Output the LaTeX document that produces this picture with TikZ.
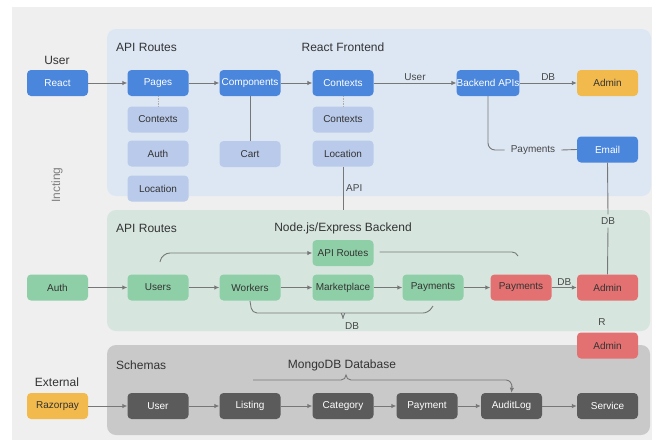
\documentclass[tikz,border=0pt]{standalone}
\usepackage{fontspec}
\setmainfont{Liberation Sans}
\usetikzlibrary{arrows.meta,calc}
\definecolor{outerbg}{HTML}{EFEFEF}
\definecolor{bluepanel}{HTML}{DDE7F4}
\definecolor{greenpanel}{HTML}{D6E6DF}
\definecolor{graypanel}{HTML}{C9C9C9}
\definecolor{bluenode}{HTML}{4A86DC}
\definecolor{lightnode}{HTML}{BACAEA}
\definecolor{yellownode}{HTML}{F2B94C}
\definecolor{greennode}{HTML}{8FCFA7}
\definecolor{rednode}{HTML}{E47171}
\definecolor{darknode}{HTML}{5B5B5B}
\definecolor{linecol}{HTML}{777777}
\definecolor{textcol}{HTML}{333333}
\begin{document}
\begin{tikzpicture}[x=1pt,y=-1pt,
  box/.style={rounded corners=4pt,minimum width=61pt,minimum height=26pt,inner sep=0pt,
    font=\fontsize{10}{12}\selectfont},
  bluebox/.style={box,fill=bluenode,text=white},
  lightbox/.style={box,fill=lightnode,text=textcol},
  yellowbox/.style={box,fill=yellownode,text=textcol},
  greenbox/.style={box,fill=greennode,text=textcol},
  redbox/.style={box,fill=rednode,text=textcol},
  darkbox/.style={box,fill=darknode,text=white},
  panel/.style={rounded corners=9pt},
  title/.style={font=\fontsize{12}{14}\selectfont,text=textcol,inner sep=0pt},
  lbl/.style={font=\fontsize{10}{12}\selectfont,text=textcol!90,inner sep=1pt},
  conn/.style={draw=linecol,line width=0.9pt},
  arr/.style={conn,-{Latex[length=5pt,width=4.5pt]}},
]
\useasboundingbox (0,0) rectangle (656,445);
\fill[white] (0,0) rectangle (656,445);
\fill[outerbg] (12,7) rectangle (652,440);
% panels
\fill[panel,bluepanel] (107,29) rectangle (651,196);
\fill[panel,greenpanel] (107,210) rectangle (650,331);
\fill[panel,graypanel] (107,345) rectangle (650,435);

% ---------- top section ----------
\node[title,anchor=west] (t1) at (116,47) {API Routes};
\node[title] (t2) at (343,47) {React Frontend};
\node[title] (luser) at (57,60) {User};
\node[lbl,text=gray,rotate=90] (inct) at (57,185) {\fontsize{12}{14}\selectfont Incting};

\node[bluebox] (react) at (57.5,83) {React};
\node[bluebox] (pages) at (158,83) {Pages};
\node[bluebox] (comp) at (250,83) {Components};
\node[bluebox] (ctx1) at (343,83) {Contexts};
\node[bluebox] (backend) at (488,83) {Backend APIs};
\node[yellowbox] (admin1) at (607.5,83) {Admin};

\node[lightbox] (ctx2) at (158,119.5) {Contexts};
\node[lightbox] (auth1) at (158,153.5) {Auth};
\node[lightbox] (loc1) at (158,188.5) {Location};
\node[lightbox] (cart) at (250,154) {Cart};
\node[lightbox] (ctx3) at (343,119.5) {Contexts};
\node[lightbox] (loc2) at (343,153.5) {Location};
\node[bluebox] (email) at (607.5,149.5) {Email};

\draw[arr] (react) -- (pages);
\draw[arr] (pages) -- (comp);
\draw[arr] (comp) -- (ctx1);
\draw[arr] (ctx1) -- node[lbl,above=1pt] (luser2) {User} (backend);
\draw[arr] (backend) -- node[lbl,above=1pt] (ldb1) {DB} (admin1);
\draw[conn] (comp) -- (cart);
\draw[draw=linecol!60,line width=0.6pt,densely dotted] (pages.south) -- (ctx2.north);
\draw[draw=linecol!60,line width=0.6pt,densely dotted] (ctx1.south) -- (ctx3.north);
\node[lbl,inner xsep=6pt] (lpay) at (533,150) {Payments};
\draw[conn,rounded corners=7pt] (backend.south) |- (lpay.west);
\draw[conn] (lpay.east) -- (email.west);
\node[lbl,anchor=west] (lapi) at (345,188) {API};
\coordinate (apiend) at (343,210);
\draw[conn] (loc2.south) -- (apiend);

% ---------- middle section ----------
\node[title,anchor=west] (t3) at (116,228) {API Routes};
\node[title] (t4) at (343,228) {Node.js/Express Backend};

\node[greenbox] (apir) at (343,253) {API Routes};
\node[greenbox] (auth2) at (57.5,287.5) {Auth};
\node[greenbox] (users) at (158,287.5) {Users};
\node[greenbox] (workers) at (250,287.5) {Workers};
\node[greenbox] (market) at (343,287.5) {Marketplace};
\node[greenbox] (pay1) at (433,287.5) {Payments};
\node[redbox] (pay2) at (521,287.5) {Payments};
\node[redbox] (admin2) at (607.5,287.5) {Admin};
\node[redbox] (admin3) at (607.5,345.5) {Admin};

\draw[arr] (auth2) -- (users);
\draw[arr] (users) -- (workers);
\draw[arr] (workers) -- (market);
\draw[arr] (market) -- (pay1);
\draw[arr] (pay1) -- (pay2);
\draw[arr] (pay2) -- node[lbl,above=1pt] (ldb2) {DB} (admin2);

\node[lbl,inner sep=3pt] (ldb3) at (608,221) {DB};
\draw[conn] (email.south) -- (ldb3.north);
\draw[conn] (ldb3.south) -- (admin2.north);
\node[lbl] (lr) at (602,322) {R};

\coordinate (ustart) at (160,262);
\draw[arr,rounded corners=8pt] (ustart) -- (162,253) -- (apir.west);
\coordinate (hookend) at (518,256);
\draw[conn] (apir.east) ++(6,-1) coordinate (h0) -- (512,252) to[out=0,in=120] (hookend);

\coordinate (wb) at (250,301);
\coordinate (pb) at (433,306);
\draw[conn,rounded corners=5pt] (wb) -- (252,313) -- (337,313) to[out=0,in=90] (343,318.5);
\draw[conn,rounded corners=5pt] (343,318.5) to[out=90,in=180] (349,313) -- (428,313) -- (pb);
\node[lbl] (ldb4) at (352,326) {DB};

% ---------- bottom section ----------
\node[title,anchor=west] (t5) at (116,365) {Schemas};
\node[title] (t6) at (342,365) {MongoDB Database};
\node[title] (lext) at (57,382) {External};

\node[yellowbox] (razor) at (57.5,406) {Razorpay};
\node[darkbox] (user) at (158,406) {User};
\node[darkbox] (listing) at (250,406) {Listing};
\node[darkbox] (category) at (343,406) {Category};
\node[darkbox] (payment) at (427,406) {Payment};
\node[darkbox] (audit) at (511.5,406) {AuditLog};
\node[darkbox] (service) at (607.5,406) {Service};

\draw[arr] (razor) -- (user);
\draw[arr] (user) -- (listing);
\draw[arr] (listing) -- (category);
\draw[arr] (category) -- (payment);
\draw[arr] (payment) -- (audit);
\draw[arr] (audit) -- (service);

\coordinate (bstart) at (253,380);
\draw[conn] (bstart) -- (341,380) to[out=0,in=-90] (346,375) to[out=-90,in=180] (351,380) -- (506,380) to[out=0,in=90] (512,387);
\draw[arr] (512,386) -- (audit.north);
\end{tikzpicture}
\end{document}
